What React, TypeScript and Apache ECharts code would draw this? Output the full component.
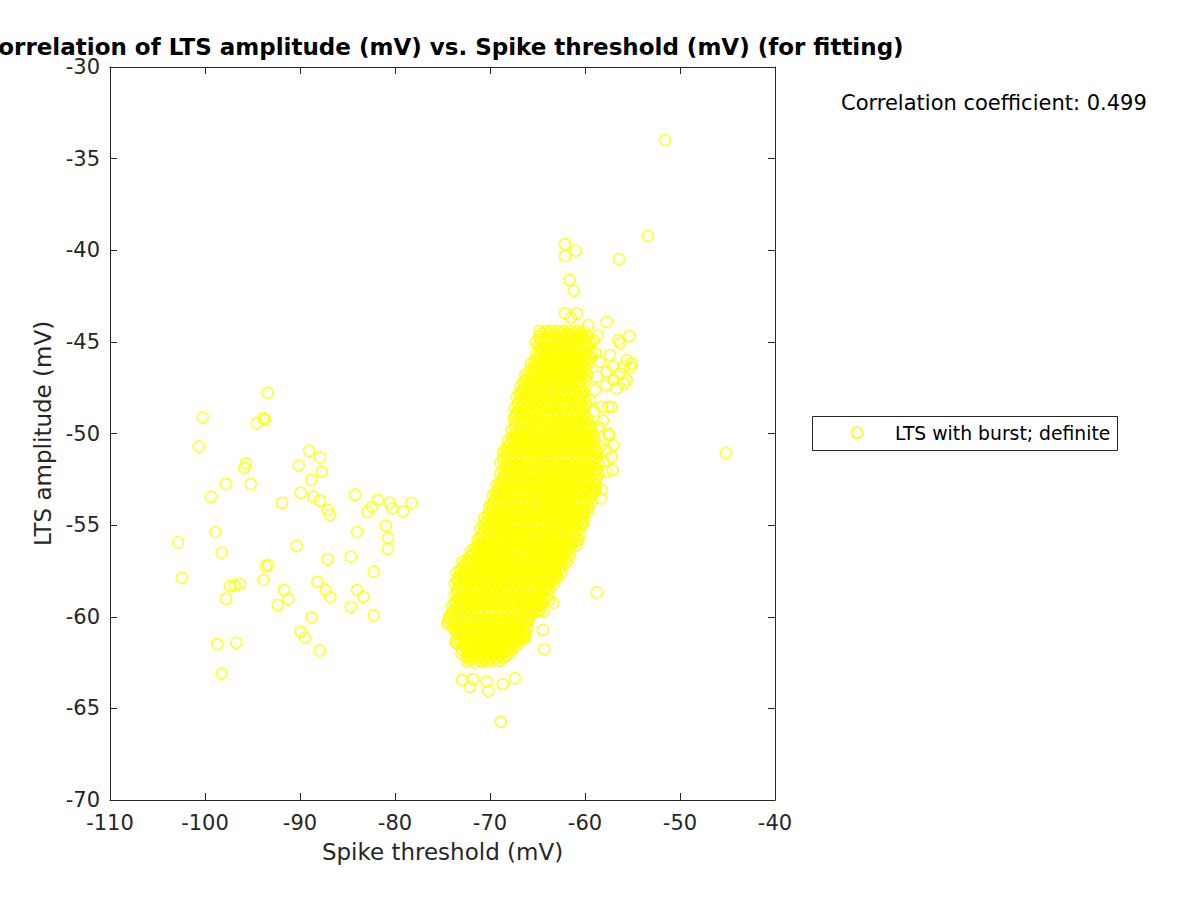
import React, { useEffect, useRef } from "react";
import * as echarts from "echarts";

// ---------- Data ----------
const titleText = "Correlation of LTS amplitude (mV) vs. Spike threshold (mV) (for fitting)";
const xAxisName = "Spike threshold (mV)";
const yAxisName = "LTS amplitude (mV)";
const seriesName = "LTS with burst; definite";
const corrText = "Correlation coefficient: 0.499";

const xMin = -110;
const xMax = -40;
const xStep = 10;
const yMin = -70;
const yMax = -30;
const yStep = 5;

// Sparse group on the left  [spike threshold, LTS amplitude]
const leftGroup: number[][] = [
  [-93.44, -47.77], [-100.24, -49.12], [-93.86, -49.17], [-94.56, -49.44], [-93.7, -49.25],
  [-100.66, -50.72], [-95.68, -51.63], [-95.86, -51.87], [-89.05, -50.94], [-87.89, -51.3],
  [-90.14, -51.74], [-87.72, -52.08], [-88.81, -52.54], [-97.79, -52.76], [-95.19, -52.76],
  [-99.37, -53.45], [-89.93, -53.23], [-88.6, -53.45], [-87.89, -53.67], [-91.89, -53.78],
  [-87.08, -54.17], [-86.84, -54.45], [-84.21, -53.34], [-81.79, -53.63], [-82.42, -53.99],
  [-82.92, -54.27], [-80.53, -53.78], [-80.28, -54.08], [-79.16, -54.25], [-78.28, -53.78],
  [-80.95, -55.03], [-80.74, -55.7], [-80.74, -56.29], [-84.0, -55.38], [-98.92, -55.38],
  [-102.84, -55.94], [-98.24, -56.5], [-90.35, -56.14], [-87.08, -56.85], [-84.66, -56.72],
  [-93.34, -57.18], [-93.58, -57.23], [-82.24, -57.54], [-102.42, -57.87], [-97.37, -58.32],
  [-96.87, -58.31], [-96.32, -58.21], [-97.79, -59.02], [-93.86, -57.99], [-91.68, -58.54],
  [-91.23, -59.03], [-92.35, -59.36], [-88.18, -58.09], [-87.29, -58.54], [-86.84, -58.91],
  [-84.0, -58.54], [-83.34, -58.91], [-84.66, -59.47], [-82.24, -59.92], [-88.81, -60.03],
  [-89.93, -60.82], [-89.47, -61.14], [-87.93, -61.85], [-98.71, -61.5], [-96.71, -61.42],
  [-98.24, -63.09],
];

// Dense cluster, row by row: [LTS amplitude, spike thresholds...]
const coreRowsA: number[][] = [
  [-44.4, -64.8, -64.1, -63.5, -62.8, -62.2, -61.5, -60.9, -60.2],
  [-44.7, -64.8, -64.2, -63.5, -62.9, -62.2, -61.6, -60.9, -60.3, -59.8],
  [-45.0, -65.2, -64.5, -63.9, -63.2, -62.6, -61.9, -61.3, -60.6, -60.0, -59.5],
  [-45.3, -64.8, -64.2, -63.5, -62.9, -62.2, -61.6, -60.9, -60.3, -59.6],
  [-45.6, -65.1, -64.4, -63.8, -63.1, -62.5, -61.8, -61.2, -60.5, -59.9, -59.3],
  [-45.9, -65.1, -64.5, -63.8, -63.2, -62.5, -61.9, -61.2, -60.6, -59.9, -59.4],
  [-46.2, -65.7, -65.0, -64.4, -63.7, -63.1, -62.4, -61.8, -61.1, -60.5, -59.8],
  [-46.5, -65.7, -65.1, -64.4, -63.8, -63.1, -62.5, -61.8, -61.2, -60.5, -59.9],
  [-46.8, -66.3, -65.6, -65.0, -64.3, -63.7, -63.0, -62.4, -61.7, -61.1, -60.4, -59.8],
  [-47.1, -66.3, -65.7, -65.0, -64.4, -63.7, -63.1, -62.4, -61.8, -61.1, -60.5, -59.9],
  [-47.4, -66.8, -66.1, -65.5, -64.8, -64.2, -63.5, -62.9, -62.2, -61.6, -60.9, -60.3],
  [-47.7, -66.7, -66.1, -65.4, -64.8, -64.1, -63.5, -62.8, -62.2, -61.5, -60.9, -60.2],
  [-48.0, -67.2, -66.5, -65.9, -65.2, -64.6, -63.9, -63.3, -62.6, -62.0, -61.3, -60.7, -60.1],
  [-48.3, -67.0, -66.4, -65.7, -65.1, -64.4, -63.8, -63.1, -62.5, -61.8, -61.2, -60.5, -59.9],
  [-48.6, -67.4, -66.7, -66.1, -65.4, -64.8, -64.1, -63.5, -62.8, -62.2, -61.5, -60.9, -60.2],
  [-48.9, -67.2, -66.6, -65.9, -65.3, -64.6, -64.0, -63.3, -62.7, -62.0, -61.4, -60.7, -60.1],
  [-49.2, -67.5, -66.8, -66.2, -65.5, -64.9, -64.2, -63.6, -62.9, -62.3, -61.6, -61.0, -60.3, -59.7],
  [-49.5, -67.3, -66.7, -66.0, -65.4, -64.7, -64.1, -63.4, -62.8, -62.1, -61.5, -60.8, -60.2, -59.5],
  [-49.8, -67.7, -67.0, -66.4, -65.7, -65.1, -64.4, -63.8, -63.1, -62.5, -61.8, -61.2, -60.5, -59.9, -59.3],
  [-50.1, -67.5, -66.9, -66.2, -65.6, -64.9, -64.3, -63.6, -63.0, -62.3, -61.7, -61.0, -60.4, -59.7, -59.1],
  [-50.4, -68.1, -67.4, -66.8, -66.1, -65.5, -64.8, -64.2, -63.5, -62.9, -62.2, -61.6, -60.9, -60.3, -59.6, -59.0],
  [-50.7, -68.1, -67.5, -66.8, -66.2, -65.5, -64.9, -64.2, -63.6, -62.9, -62.3, -61.6, -61.0, -60.3, -59.7, -59.0],
  [-51.0, -68.6, -67.9, -67.3, -66.6, -66.0, -65.3, -64.7, -64.0, -63.4, -62.7, -62.1, -61.4, -60.8, -60.1, -59.5, -58.8],
  [-51.3, -68.5, -67.9, -67.2, -66.6, -65.9, -65.3, -64.6, -64.0, -63.3, -62.7, -62.0, -61.4, -60.7, -60.1, -59.4, -58.8],
  [-51.6, -68.9, -68.2, -67.6, -66.9, -66.3, -65.6, -65.0, -64.3, -63.7, -63.0, -62.4, -61.7, -61.1, -60.4, -59.8, -59.1, -58.6],
  [-51.9, -68.5, -67.9, -67.2, -66.6, -65.9, -65.3, -64.6, -64.0, -63.3, -62.7, -62.0, -61.4, -60.7, -60.1, -59.4, -58.8],
  [-52.2, -68.9, -68.2, -67.6, -66.9, -66.3, -65.6, -65.0, -64.3, -63.7, -63.0, -62.4, -61.7, -61.1, -60.4, -59.8, -59.1, -58.6],
  [-52.5, -68.7, -68.1, -67.4, -66.8, -66.1, -65.5, -64.8, -64.2, -63.5, -62.9, -62.2, -61.6, -60.9, -60.3, -59.6, -59.0],
  [-52.8, -69.3, -68.6, -68.0, -67.3, -66.7, -66.0, -65.4, -64.7, -64.1, -63.4, -62.8, -62.1, -61.5, -60.8, -60.2, -59.5, -58.9],
  [-53.1, -69.2, -68.6, -67.9, -67.3, -66.6, -66.0, -65.3, -64.7, -64.0, -63.4, -62.7, -62.1, -61.4, -60.8, -60.1, -59.5, -58.9],
  [-53.4, -69.7, -69.0, -68.4, -67.7, -67.1, -66.4, -65.8, -65.1, -64.5, -63.8, -63.2, -62.5, -61.9, -61.2, -60.6, -59.9, -59.3],
  [-53.7, -69.6, -69.0, -68.3, -67.7, -67.0, -66.4, -65.7, -65.1, -64.4, -63.8, -63.1, -62.5, -61.8, -61.2, -60.5, -59.9, -59.3],
  [-54.0, -70.1, -69.4, -68.8, -68.1, -67.5, -66.8, -66.2, -65.5, -64.9, -64.2, -63.6, -62.9, -62.3, -61.6, -61.0, -60.3, -59.7],
  [-54.3, -70.0, -69.4, -68.7, -68.1, -67.4, -66.8, -66.1, -65.5, -64.8, -64.2, -63.5, -62.9, -62.2, -61.6, -60.9, -60.3, -59.8],
  [-54.6, -70.6, -69.9, -69.3, -68.6, -68.0, -67.3, -66.7, -66.0, -65.4, -64.7, -64.1, -63.4, -62.8, -62.1, -61.5, -60.8, -60.2],
  [-54.9, -70.5, -69.9, -69.2, -68.6, -67.9, -67.3, -66.6, -66.0, -65.3, -64.7, -64.0, -63.4, -62.7, -62.1, -61.4, -60.8, -60.2],
  [-55.2, -71.0, -70.3, -69.7, -69.0, -68.4, -67.7, -67.1, -66.4, -65.8, -65.1, -64.5, -63.8, -63.2, -62.5, -61.9, -61.2, -60.6],
  [-55.5, -70.8, -70.2, -69.5, -68.9, -68.2, -67.6, -66.9, -66.3, -65.6, -65.0, -64.3, -63.7, -63.0, -62.4, -61.7, -61.1, -60.5],
  [-55.8, -71.3, -70.6, -70.0, -69.3, -68.7, -68.0, -67.4, -66.7, -66.1, -65.4, -64.8, -64.1, -63.5, -62.8, -62.2, -61.5, -60.9],
  [-56.1, -71.3, -70.7, -70.0, -69.4, -68.7, -68.1, -67.4, -66.8, -66.1, -65.5, -64.8, -64.2, -63.5, -62.9, -62.2, -61.6, -60.9],
  [-56.4, -72.0, -71.3, -70.7, -70.0, -69.4, -68.7, -68.1, -67.4, -66.8, -66.1, -65.5, -64.8, -64.2, -63.5, -62.9, -62.2, -61.6],
  [-56.7, -72.1, -71.5, -70.8, -70.2, -69.5, -68.9, -68.2, -67.6, -66.9, -66.3, -65.6, -65.0, -64.3, -63.7, -63.0, -62.4, -61.7],
  [-57.0, -72.9, -72.2, -71.6, -70.9, -70.3, -69.6, -69.0, -68.3, -67.7, -67.0, -66.4, -65.7, -65.1, -64.4, -63.8, -63.1, -62.5, -61.9],
  [-57.3, -72.9, -72.3, -71.6, -71.0, -70.3, -69.7, -69.0, -68.4, -67.7, -67.1, -66.4, -65.8, -65.1, -64.5, -63.8, -63.2, -62.5],
  [-57.6, -73.5, -72.8, -72.2, -71.5, -70.9, -70.2, -69.6, -68.9, -68.3, -67.6, -67.0, -66.3, -65.7, -65.0, -64.4, -63.7, -63.1, -62.5],
  [-57.9, -73.4, -72.8, -72.1, -71.5, -70.8, -70.2, -69.5, -68.9, -68.2, -67.6, -66.9, -66.3, -65.6, -65.0, -64.3, -63.7, -63.0],
  [-58.2, -73.7, -73.0, -72.4, -71.7, -71.1, -70.4, -69.8, -69.1, -68.5, -67.8, -67.2, -66.5, -65.9, -65.2, -64.6, -63.9, -63.3],
  [-58.5, -73.4, -72.8, -72.1, -71.5, -70.8, -70.2, -69.5, -68.9, -68.2, -67.6, -66.9, -66.3, -65.6, -65.0, -64.3, -63.8],
  [-58.8, -73.7, -73.0, -72.4, -71.7, -71.1, -70.4, -69.8, -69.1, -68.5, -67.8, -67.2, -66.5, -65.9, -65.2, -64.6, -63.9],
  [-59.1, -73.5, -72.9, -72.2, -71.6, -70.9, -70.3, -69.6, -69.0, -68.3, -67.7, -67.0, -66.4, -65.7, -65.1, -64.4, -63.8],
  [-59.4, -74.0, -73.3, -72.7, -72.0, -71.4, -70.7, -70.1, -69.4, -68.8, -68.1, -67.5, -66.8, -66.2, -65.5, -64.9],
  [-59.7, -73.9, -73.3, -72.6, -72.0, -71.3, -70.7, -70.0, -69.4, -68.7, -68.1, -67.4, -66.8, -66.1, -65.5, -64.9],
  [-60.0, -74.3, -73.6, -73.0, -72.3, -71.7, -71.0, -70.4, -69.7, -69.1, -68.4, -67.8, -67.1, -66.5, -65.8],
  [-60.3, -73.9, -73.3, -72.6, -72.0, -71.3, -70.7, -70.0, -69.4, -68.7, -68.1, -67.4, -66.8, -66.1],
  [-60.6, -73.9, -73.2, -72.6, -71.9, -71.3, -70.6, -70.0, -69.3, -68.7, -68.0, -67.4, -66.7, -66.1],
  [-60.9, -73.4, -72.8, -72.1, -71.5, -70.8, -70.2, -69.5, -68.9, -68.2, -67.6, -66.9, -66.3],
  [-61.2, -73.5, -72.8, -72.2, -71.5, -70.9, -70.2, -69.6, -68.9, -68.3, -67.6, -67.0, -66.4],
  [-61.5, -72.9, -72.3, -71.6, -71.0, -70.3, -69.7, -69.0, -68.4, -67.7, -67.1],
  [-61.8, -72.9, -72.2, -71.6, -70.9, -70.3, -69.6, -69.0, -68.3, -67.7],
  [-62.1, -72.2, -71.6, -70.9, -70.3, -69.6, -69.0, -68.3],
  [-62.4, -71.0, -70.3, -69.7, -69.0],
];

// Second, interleaved set of rows inside the dense cluster
const coreRowsB: number[][] = [
  [-44.55, -64.5, -63.8, -63.2, -62.5, -61.9, -61.2, -60.6],
  [-44.85, -64.7, -64.0, -63.4, -62.7, -62.1, -61.4, -60.8, -60.1],
  [-45.15, -64.9, -64.3, -63.6, -63.0, -62.3, -61.7, -61.0, -60.4, -59.8],
  [-45.45, -64.6, -64.0, -63.3, -62.7, -62.0, -61.4, -60.7, -60.1],
  [-45.75, -64.8, -64.1, -63.5, -62.8, -62.2, -61.5, -60.9, -60.2, -59.6],
  [-46.05, -65.3, -64.7, -64.0, -63.4, -62.7, -62.1, -61.4, -60.8, -60.1],
  [-46.35, -65.4, -64.7, -64.1, -63.4, -62.8, -62.1, -61.5, -60.8, -60.2],
  [-46.65, -65.9, -65.3, -64.6, -64.0, -63.3, -62.7, -62.0, -61.4, -60.7, -60.1],
  [-46.95, -66.0, -65.3, -64.7, -64.0, -63.4, -62.7, -62.1, -61.4, -60.8, -60.2],
  [-47.25, -66.5, -65.8, -65.2, -64.5, -63.9, -63.2, -62.6, -61.9, -61.3, -60.6],
  [-47.55, -66.4, -65.8, -65.1, -64.5, -63.8, -63.2, -62.5, -61.9, -61.2, -60.6],
  [-47.85, -66.9, -66.2, -65.6, -64.9, -64.3, -63.6, -63.0, -62.3, -61.7, -61.0, -60.4],
  [-48.15, -66.8, -66.1, -65.5, -64.8, -64.2, -63.5, -62.9, -62.2, -61.6, -60.9, -60.3],
  [-48.45, -67.1, -66.5, -65.8, -65.2, -64.5, -63.9, -63.2, -62.6, -61.9, -61.3, -60.6, -60.0],
  [-48.75, -67.0, -66.3, -65.7, -65.0, -64.4, -63.7, -63.1, -62.4, -61.8, -61.1, -60.5],
  [-49.05, -67.3, -66.6, -66.0, -65.3, -64.7, -64.0, -63.4, -62.7, -62.1, -61.4, -60.8, -60.1],
  [-49.35, -67.1, -66.4, -65.8, -65.1, -64.5, -63.8, -63.2, -62.5, -61.9, -61.2, -60.6, -59.9],
  [-49.65, -67.4, -66.8, -66.1, -65.5, -64.8, -64.2, -63.5, -62.9, -62.2, -61.6, -60.9, -60.3, -59.6],
  [-49.95, -67.3, -66.6, -66.0, -65.3, -64.7, -64.0, -63.4, -62.7, -62.1, -61.4, -60.8, -60.1, -59.5],
  [-50.25, -67.7, -67.1, -66.4, -65.8, -65.1, -64.5, -63.8, -63.2, -62.5, -61.9, -61.2, -60.6, -59.9, -59.3],
  [-50.55, -67.8, -67.1, -66.5, -65.8, -65.2, -64.5, -63.9, -63.2, -62.6, -61.9, -61.3, -60.6, -60.0, -59.3],
  [-50.85, -68.3, -67.6, -67.0, -66.3, -65.7, -65.0, -64.4, -63.7, -63.1, -62.4, -61.8, -61.1, -60.5, -59.8, -59.2],
  [-51.15, -68.2, -67.6, -66.9, -66.3, -65.6, -65.0, -64.3, -63.7, -63.0, -62.4, -61.7, -61.1, -60.4, -59.8, -59.1],
  [-51.45, -68.6, -67.9, -67.3, -66.6, -66.0, -65.3, -64.7, -64.0, -63.4, -62.7, -62.1, -61.4, -60.8, -60.1, -59.5, -58.9],
  [-51.75, -68.4, -67.7, -67.1, -66.4, -65.8, -65.1, -64.5, -63.8, -63.2, -62.5, -61.9, -61.2, -60.6, -59.9, -59.3],
  [-52.05, -68.6, -67.9, -67.3, -66.6, -66.0, -65.3, -64.7, -64.0, -63.4, -62.7, -62.1, -61.4, -60.8, -60.1, -59.5, -58.9],
  [-52.35, -68.5, -67.8, -67.2, -66.5, -65.9, -65.2, -64.6, -63.9, -63.3, -62.6, -62.0, -61.3, -60.7, -60.0, -59.4],
  [-52.65, -68.9, -68.3, -67.6, -67.0, -66.3, -65.7, -65.0, -64.4, -63.7, -63.1, -62.4, -61.8, -61.1, -60.5, -59.8, -59.2],
  [-52.95, -69.0, -68.3, -67.7, -67.0, -66.4, -65.7, -65.1, -64.4, -63.8, -63.1, -62.5, -61.8, -61.2, -60.5, -59.9, -59.2],
  [-53.25, -69.4, -68.7, -68.1, -67.4, -66.8, -66.1, -65.5, -64.8, -64.2, -63.5, -62.9, -62.2, -61.6, -60.9, -60.3, -59.6],
  [-53.55, -69.4, -68.7, -68.1, -67.4, -66.8, -66.1, -65.5, -64.8, -64.2, -63.5, -62.9, -62.2, -61.6, -60.9, -60.3, -59.6],
  [-53.85, -69.8, -69.1, -68.5, -67.8, -67.2, -66.5, -65.9, -65.2, -64.6, -63.9, -63.3, -62.6, -62.0, -61.3, -60.7, -60.0],
  [-54.15, -69.8, -69.1, -68.5, -67.8, -67.2, -66.5, -65.9, -65.2, -64.6, -63.9, -63.3, -62.6, -62.0, -61.3, -60.7, -60.1],
  [-54.45, -70.2, -69.6, -68.9, -68.3, -67.6, -67.0, -66.3, -65.7, -65.0, -64.4, -63.7, -63.1, -62.4, -61.8, -61.1, -60.5],
  [-54.75, -70.3, -69.6, -69.0, -68.3, -67.7, -67.0, -66.4, -65.7, -65.1, -64.4, -63.8, -63.1, -62.5, -61.8, -61.2, -60.6],
  [-55.05, -70.7, -70.0, -69.4, -68.7, -68.1, -67.4, -66.8, -66.1, -65.5, -64.8, -64.2, -63.5, -62.9, -62.2, -61.6, -60.9],
  [-55.35, -70.6, -69.9, -69.3, -68.6, -68.0, -67.3, -66.7, -66.0, -65.4, -64.7, -64.1, -63.4, -62.8, -62.1, -61.5, -60.9],
  [-55.65, -71.0, -70.3, -69.7, -69.0, -68.4, -67.7, -67.1, -66.4, -65.8, -65.1, -64.5, -63.8, -63.2, -62.5, -61.9, -61.2],
  [-55.95, -71.0, -70.3, -69.7, -69.0, -68.4, -67.7, -67.1, -66.4, -65.8, -65.1, -64.5, -63.8, -63.2, -62.5, -61.9, -61.2],
  [-56.25, -71.6, -70.9, -70.3, -69.6, -69.0, -68.3, -67.7, -67.0, -66.4, -65.7, -65.1, -64.4, -63.8, -63.1, -62.5, -61.8],
  [-56.55, -71.8, -71.1, -70.5, -69.8, -69.2, -68.5, -67.9, -67.2, -66.6, -65.9, -65.3, -64.6, -64.0, -63.3, -62.7, -62.0],
  [-56.85, -72.4, -71.8, -71.1, -70.5, -69.8, -69.2, -68.5, -67.9, -67.2, -66.6, -65.9, -65.3, -64.6, -64.0, -63.3, -62.7, -62.1],
  [-57.15, -72.6, -71.9, -71.3, -70.6, -70.0, -69.3, -68.7, -68.0, -67.4, -66.7, -66.1, -65.4, -64.8, -64.1, -63.5, -62.8],
  [-57.45, -73.1, -72.5, -71.8, -71.2, -70.5, -69.9, -69.2, -68.6, -67.9, -67.3, -66.6, -66.0, -65.3, -64.7, -64.0, -63.4, -62.8],
  [-57.75, -73.2, -72.5, -71.9, -71.2, -70.6, -69.9, -69.3, -68.6, -68.0, -67.3, -66.7, -66.0, -65.4, -64.7, -64.1, -63.4],
  [-58.05, -73.4, -72.7, -72.1, -71.4, -70.8, -70.1, -69.5, -68.8, -68.2, -67.5, -66.9, -66.2, -65.6, -64.9, -64.3, -63.6],
  [-58.35, -73.2, -72.5, -71.9, -71.2, -70.6, -69.9, -69.3, -68.6, -68.0, -67.3, -66.7, -66.0, -65.4, -64.7, -64.1],
  [-58.65, -73.4, -72.7, -72.1, -71.4, -70.8, -70.1, -69.5, -68.8, -68.2, -67.5, -66.9, -66.2, -65.6, -64.9, -64.3],
  [-58.95, -73.2, -72.6, -71.9, -71.3, -70.6, -70.0, -69.3, -68.7, -68.0, -67.4, -66.7, -66.1, -65.4, -64.8, -64.2],
  [-59.25, -73.7, -73.0, -72.4, -71.7, -71.1, -70.4, -69.8, -69.1, -68.5, -67.8, -67.2, -66.5, -65.9, -65.2, -64.6],
  [-59.55, -73.6, -73.0, -72.3, -71.7, -71.0, -70.4, -69.7, -69.1, -68.4, -67.8, -67.1, -66.5, -65.8, -65.2],
  [-59.85, -74.0, -73.3, -72.7, -72.0, -71.4, -70.7, -70.1, -69.4, -68.8, -68.1, -67.5, -66.8, -66.2, -65.6],
  [-60.15, -73.8, -73.1, -72.5, -71.8, -71.2, -70.5, -69.9, -69.2, -68.6, -67.9, -67.3, -66.6, -66.0],
  [-60.45, -73.6, -73.0, -72.3, -71.7, -71.0, -70.4, -69.7, -69.1, -68.4, -67.8, -67.1, -66.5],
  [-60.75, -73.6, -72.9, -72.3, -71.6, -71.0, -70.3, -69.7, -69.0, -68.4, -67.7, -67.1, -66.4],
  [-61.05, -73.1, -72.5, -71.8, -71.2, -70.5, -69.9, -69.2, -68.6, -67.9, -67.3, -66.7],
  [-61.35, -73.1, -72.5, -71.8, -71.2, -70.5, -69.9, -69.2, -68.6, -67.9, -67.3],
  [-61.65, -72.6, -71.9, -71.3, -70.6, -70.0, -69.3, -68.7, -68.0, -67.4],
  [-61.95, -72.4, -71.8, -71.1, -70.5, -69.8, -69.2, -68.5, -67.9],
  [-62.25, -71.8, -71.2, -70.6, -69.9, -69.3, -68.6],
];

// Fringe and isolated points around the dense cluster [spike threshold, LTS amplitude]
const fringePoints: number[][] = [
  [-62.11, -39.66], [-60.98, -40.02], [-62.11, -40.31], [-61.65, -41.62], [-61.19, -42.21],
  [-62.11, -43.44], [-60.88, -43.44], [-61.5, -43.7], [-57.72, -43.9], [-59.65, -44.08],
  [-56.42, -40.48], [-53.37, -39.22], [-51.58, -33.98], [-45.16, -51.06],
  [-56.49, -44.9], [-55.37, -44.68], [-56.3, -45.06], [-57.37, -45.72], [-55.61, -45.99],
  [-55.09, -46.17], [-55.97, -46.35], [-57.02, -46.35], [-57.72, -46.63], [-56.32, -46.72],
  [-57.02, -47.08], [-55.61, -47.08], [-56.67, -47.53], [-57.72, -47.35], [-58.77, -46.9],
  [-58.95, -47.63], [-57.55, -48.54], [-57.19, -48.54], [-58.25, -48.54], [-59.47, -48.17],
  [-57.55, -49.99], [-58.6, -49.63], [-59.13, -44.9], [-58.63, -44.63], [-55.2, -46.4],
  [-55.9, -47.3], [-57.44, -50.08], [-57.02, -50.63], [-57.72, -50.9], [-57.19, -51.27],
  [-58.07, -51.54], [-57.09, -51.99], [-57.72, -52.08], [-58.77, -52.36], [-58.25, -53.08],
  [-58.35, -53.54], [-59.13, -53.26], [-59.65, -54.08], [-60.18, -54.36], [-60.35, -54.9],
  [-60.7, -55.81], [-58.4, -50.7], [-58.1, -49.3], [-58.9, -45.6], [-58.5, -46.1], [-59.0, -48.8],
  [-63.33, -59.23], [-64.45, -60.72], [-64.28, -61.76], [-58.77, -58.67], [-64.74, -59.63],
  [-66.14, -60.0], [-66.32, -61.09], [-68.42, -61.9], [-66.84, -61.0], [-64.4, -59.72],
  [-65.09, -59.72], [-66.49, -61.09], [-62.95, -57.83], [-64.2, -58.38],
  [-72.95, -63.45], [-72.11, -63.82], [-70.35, -63.54], [-70.18, -64.04], [-68.66, -63.67],
  [-67.37, -63.36], [-71.79, -63.4], [-68.87, -65.73], [-74.49, -60.36], [-74.32, -60.07],
  [-73.68, -61.36], [-73.0, -62.0], [-72.4, -62.45], [-71.6, -62.5], [-74.39, -60.27],
  [-73.5, -61.45], [-72.45, -62.18], [-70.87, -62.45], [-72.1, -62.36], [-69.3, -62.1],
];

// ---------- Component ----------
const FONT = "'DejaVu Sans', 'Liberation Sans', sans-serif";
const AXIS_COLOR = "#262626";
const MARK_COLOR = "#ffff00";

function rowsToPoints(rows: number[][]): number[][] {
  const out: number[][] = [];
  rows.forEach((row) => {
    const y = row[0];
    row.slice(1).forEach((x) => out.push([x, y]));
  });
  return out;
}

export default function App() {
  const ref = useRef<HTMLDivElement>(null);

  useEffect(() => {
    if (!ref.current) return;
    const chart = echarts.init(ref.current, undefined, { renderer: "svg" });

    const allPoints = [
      ...leftGroup,
      ...rowsToPoints(coreRowsA),
      ...rowsToPoints(coreRowsB),
      ...fringePoints,
    ];

    const tickLabel = { fontSize: 21, color: AXIS_COLOR, fontFamily: FONT };
    const axisLine = { show: true, onZero: false, lineStyle: { color: AXIS_COLOR, width: 1 } };
    const axisTick = { show: true, inside: true, length: 7, lineStyle: { color: AXIS_COLOR, width: 1 } };

    chart.setOption({
      animation: false,
      backgroundColor: "#ffffff",
      grid: { left: 110, top: 67, width: 665, height: 733, containLabel: false },
      xAxis: [
        {
          type: "value", position: "bottom", min: xMin, max: xMax, interval: xStep,
          axisLine, axisTick,
          axisLabel: { ...tickLabel, margin: 12 },
          splitLine: { show: false },
          name: xAxisName, nameLocation: "middle", nameGap: 40,
          nameTextStyle: { fontSize: 23, color: AXIS_COLOR, fontFamily: FONT },
        },
        {
          type: "value", position: "top", min: xMin, max: xMax, interval: xStep,
          axisLine, axisTick, axisLabel: { show: false }, splitLine: { show: false },
        },
      ],
      yAxis: [
        {
          type: "value", position: "left", min: yMin, max: yMax, interval: yStep,
          axisLine, axisTick,
          axisLabel: { ...tickLabel, margin: 10 },
          splitLine: { show: false },
          name: yAxisName, nameLocation: "middle", nameGap: 52,
          nameTextStyle: { fontSize: 23, color: AXIS_COLOR, fontFamily: FONT },
        },
        {
          type: "value", position: "right", min: yMin, max: yMax, interval: yStep,
          axisLine, axisTick, axisLabel: { show: false }, splitLine: { show: false },
        },
      ],
      series: [
        {
          name: seriesName,
          type: "scatter",
          xAxisIndex: 0,
          yAxisIndex: 0,
          symbol: "circle",
          symbolSize: 11,
          silent: true,
          large: false,
          itemStyle: { color: "rgba(0,0,0,0)", borderColor: MARK_COLOR, borderWidth: 1.6 },
          emphasis: { disabled: true },
          data: allPoints,
        },
      ],
      graphic: [
        {
          type: "text", x: 442.5, y: 47, silent: true,
          style: {
            text: titleText, fontSize: 23, fontWeight: "bold", fontFamily: FONT,
            fill: "#000000", align: "center", verticalAlign: "middle",
          },
        },
        {
          type: "text", x: 841, y: 103, silent: true,
          style: {
            text: corrText, fontSize: 21, fontFamily: FONT, fill: "#000000",
            align: "left", verticalAlign: "middle",
          },
        },
        {
          type: "rect", silent: true,
          shape: { x: 812.5, y: 416.5, width: 305, height: 34 },
          style: { fill: "#ffffff", stroke: AXIS_COLOR, lineWidth: 1 },
        },
        {
          type: "circle", silent: true,
          shape: { cx: 857, cy: 432.5, r: 5.5 },
          style: { fill: "none", stroke: MARK_COLOR, lineWidth: 1.6 },
        },
        {
          type: "text", x: 895, y: 433, silent: true,
          style: {
            text: seriesName, fontSize: 18.8, fontFamily: FONT, fill: "#000000",
            align: "left", verticalAlign: "middle",
          },
        },
      ],
    });

    return () => chart.dispose();
  }, []);

  return (
    <div
      ref={ref}
      style={{ position: "fixed", left: 0, top: 0, width: 1200, height: 900, background: "#fff" }}
    />
  );
}
